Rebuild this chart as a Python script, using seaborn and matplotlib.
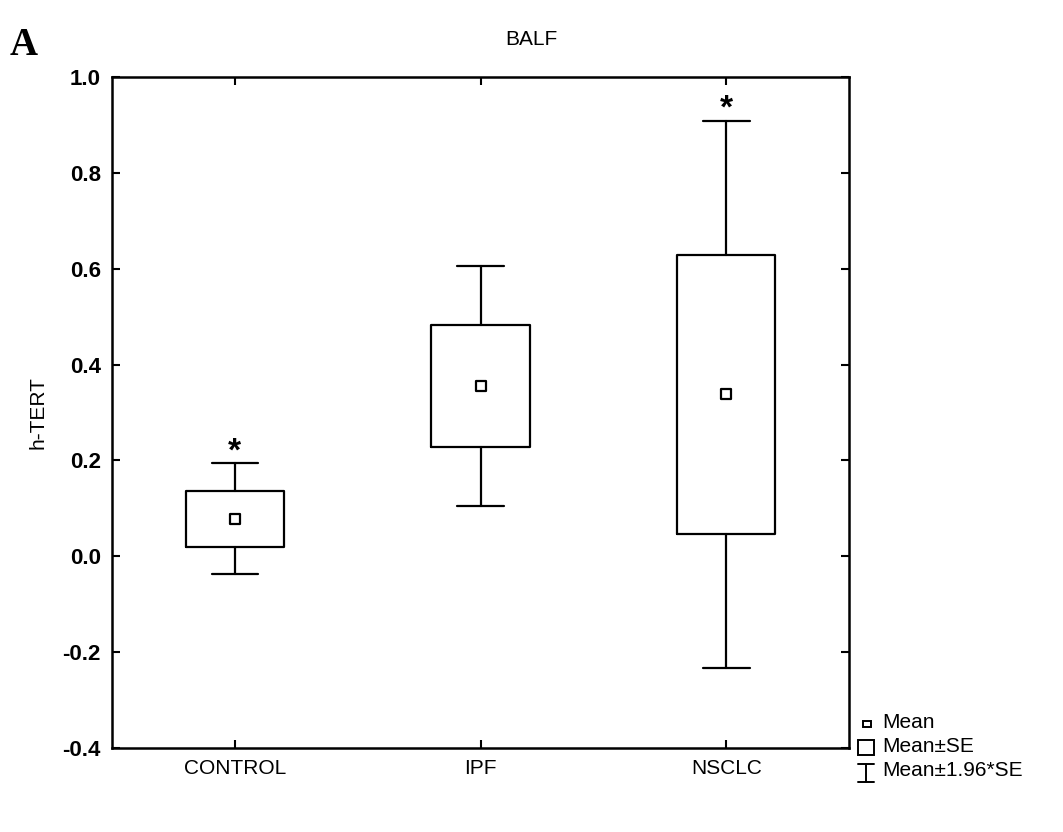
import numpy as np
import pandas as pd
import matplotlib
matplotlib.use("Agg")
import matplotlib.pyplot as plt
from matplotlib.lines import Line2D
from matplotlib.patches import Rectangle
import seaborn as sns

# values (mean and standard error per group)
groups = ["CONTROL", "IPF", "NSCLC"]
means = [0.078, 0.355, 0.338]
ses = [0.059, 0.128, 0.291]
significant = [True, False, True]

sns.set_theme(style="ticks")
plt.rcParams["font.family"] = ["Liberation Sans", "DejaVu Sans"]
plt.rcParams["text.color"] = "black"
plt.rcParams["axes.labelcolor"] = "black"
plt.rcParams["xtick.color"] = "black"
plt.rcParams["ytick.color"] = "black"

fig = plt.figure(figsize=(10.63, 8.32), dpi=100)
ax = fig.add_axes([0.1054, 0.1010, 0.6933, 0.8065])

stats = []
for g, m, s in zip(groups, means, ses):
    stats.append({
        "label": g, "med": m,
        "q1": m - s, "q3": m + s,
        "whislo": m - 1.96 * s, "whishi": m + 1.96 * s,
    })

line_kw = dict(color="black", linewidth=1.6)
ax.bxp(stats, positions=range(len(groups)), widths=0.4, capwidths=0.19,
       showfliers=False, patch_artist=False,
       boxprops=line_kw, whiskerprops=line_kw, capprops=line_kw,
       medianprops=dict(linewidth=0))

df = pd.DataFrame({"group": groups, "mean": means})
sns.scatterplot(data=df, x="group", y="mean", marker="s", s=42,
                facecolor="white", edgecolor="black", linewidth=1.6,
                zorder=5, ax=ax, legend=False)

for i, (m, s, sig) in enumerate(zip(means, ses, significant)):
    if sig:
        ax.text(i, m + 1.96 * s + 0.024, "*", ha="center", va="center",
                fontsize=24, fontweight="bold", color="black")

ax.set_xlim(-0.5, 2.5)
ax.set_ylim(-0.4, 1.0)
yt = np.arange(-0.4, 1.01, 0.2)
ax.set_yticks(yt)
ax.set_yticklabels([f"{v:.1f}" for v in yt], fontsize=16, fontweight="bold")
ax.set_xticks(range(len(groups)))
ax.set_xticklabels(groups, fontsize=15)
ax.set_xlabel("")
ax.set_ylabel("h-TERT", fontsize=15, labelpad=11)
ax.tick_params(direction="in", length=6, width=1.5, top=True, right=True,
               colors="black", pad=8)
for sp in ax.spines.values():
    sp.set_visible(True)
    sp.set_linewidth(1.8)
    sp.set_color("black")

fig.text(0.5, 0.952, "BALF", ha="center", va="center", fontsize=15)
fig.text(0.009, 0.945, "A", ha="left", va="center", fontsize=28,
         fontweight="bold", family=["Liberation Serif", "DejaVu Serif"])

# legend drawn by hand, outside the axes
W, H = fig.get_size_inches() * fig.dpi
def fx(px):
    return px / W
def fy(py):
    return 1 - py / H

fig.add_artist(Rectangle((fx(863), fy(727)), fx(8), 6 / H, transform=fig.transFigure,
                         facecolor="white", edgecolor="black", linewidth=1.4))
fig.add_artist(Rectangle((fx(858), fy(755)), fx(16), 15 / H, transform=fig.transFigure,
                         facecolor="white", edgecolor="black", linewidth=1.4))
for xs, ys in [([866, 866], [764, 782]), ([858, 874], [764, 764]), ([858, 874], [782, 782])]:
    fig.add_artist(Line2D([fx(v) for v in xs], [fy(v) for v in ys],
                          transform=fig.transFigure, color="black", linewidth=1.4))
for py, txt in [(722, "Mean"), (746, "Mean±SE"), (771, "Mean±1.96*SE")]:
    fig.text(fx(882), fy(py), txt, ha="left", va="center", fontsize=15)

fig.savefig("out.png", dpi=100)
